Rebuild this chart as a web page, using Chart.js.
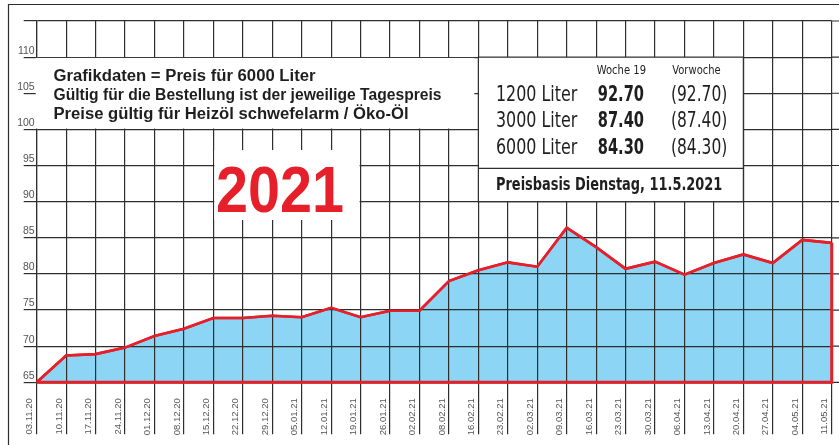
<!DOCTYPE html>
<html>
<head>
<meta charset="utf-8">
<script src="https://cdn.jsdelivr.net/npm/chart.js@4.4.1/dist/chart.umd.min.js"></script>
<style>
  html, body { margin: 0; padding: 0; background: #fff; }
  canvas { display: block; }
</style>
</head>
<body>
<canvas id="priceChart" width="839" height="445"></canvas>
<script>
/* ─── Data ───────────────────────────────────────────────────── */
const WEEKS = [
  '03.11.20', '10.11.20', '17.11.20', '24.11.20', '01.12.20', '08.12.20', '15.12.20',
  '22.12.20', '29.12.20', '05.01.21', '12.01.21', '19.01.21', '26.01.21', '02.02.21',
  '08.02.21', '16.02.21', '23.02.21', '02.03.21', '09.03.21', '16.03.21', '23.03.21',
  '30.03.21', '06.04.21', '13.04.21', '20.04.21', '27.04.21', '04.05.21', '11.05.21',
];
const PRICE_6000 = [
  65.0, 68.7, 68.9, 69.8, 71.4, 72.4, 73.9,
  73.9, 74.2, 74.0, 75.3, 74.0, 74.9, 74.9,
  79.0, 80.5, 81.6, 81.0, 86.4, 83.7, 80.7,
  81.7, 79.9, 81.5, 82.7, 81.5, 84.7, 84.3,
];
const Y_MIN = 65;
const Y_MAX = 115;
const Y_STEP = 5;

const NOTES = [
  'Grafikdaten = Preis für 6000 Liter',
  'Gültig für die Bestellung ist der jeweilige Tagespreis',
  'Preise gültig für Heizöl schwefelarm / Öko-Öl',
];
const TABLE_ROWS  = ['1200 Liter', '3000 Liter', '6000 Liter'];
const THIS_WEEK   = ['92.70', '87.40', '84.30'];
const LAST_WEEK   = ['(92.70)', '(87.40)', '(84.30)'];
const COL_HEADS   = ['Woche 19', 'Vorwoche'];
const BASIS_TEXT  = 'Preisbasis Dienstag, 11.5.2021';
const YEAR_TEXT   = '2021';

/* ─── Styles ─────────────────────────────────────────────────── */
const RED   = '#e6202a';
const BLUE  = '#8dd5f4';
const GRID  = '#2e2e2e';
const TICK  = '#555';
const INK   = '#1e1e1e';
const SANS   = "'Liberation Sans', Arial, sans-serif";
const NARROW = "'Liberation Sans Narrow', 'Arial Narrow', 'DejaVu Sans Condensed', sans-serif";

/* ─── Helpers ────────────────────────────────────────────────── */
// draw text squeezed/stretched to a given width
function fitText(ctx, text, x, base, font, color, width) {
  ctx.save();
  ctx.font = font;
  ctx.fillStyle = color;
  ctx.textAlign = 'left';
  ctx.textBaseline = 'alphabetic';
  const w = ctx.measureText(text).width;
  ctx.translate(x, base);
  ctx.scale(width / w, 1);
  ctx.fillText(text, 0, 0);
  ctx.restore();
}

function whiteBox(ctx, x0, y0, x1, y1) {
  ctx.fillStyle = '#fff';
  ctx.fillRect(x0, y0, x1 - x0, y1 - y0);
}

/* ─── Overlay plugin: frame, red outline on top, text boxes ─── */
const overlay = {
  id: 'overlay',
  afterDraw(chart) {
    const { ctx, chartArea: area, scales: { x, y } } = chart;
    ctx.save();

    // outer frame (top + left)
    ctx.strokeStyle = GRID;
    ctx.lineWidth = 1.2;
    ctx.beginPath();
    ctx.moveTo(8.5, 445); ctx.lineTo(8.5, 4.5); ctx.lineTo(839, 4.5);
    ctx.stroke();

    // horizontal grid runs a little past the right edge
    ctx.beginPath();
    y.ticks.forEach(t => {
      const py = y.getPixelForValue(t.value);
      ctx.moveTo(area.right, py); ctx.lineTo(839, py);
    });
    ctx.stroke();

    // red lines go above the grid
    chart.data.datasets.forEach((ds, i) => chart.getDatasetMeta(i).controller.draw());

    // left notes box
    const y110 = y.getPixelForValue(110);
    const y100 = y.getPixelForValue(100);
    const y90  = y.getPixelForValue(90);
    whiteBox(ctx, area.left - 1, y110 + 0.8, x.getPixelForValue(15) - 4, y100 - 0.8);
    [81, 100, 119].forEach((b, i) =>
      fitText(ctx, NOTES[i], 53.5, b, `bold 16px ${SANS}`, INK, [262, 388, 355][i]));

    // "2021"
    whiteBox(ctx, x.getPixelForValue(6) + 1, 150, x.getPixelForValue(11) - 1, 220);
    fitText(ctx, YEAR_TEXT, 216, 211.5, `bold 64px ${SANS}`, RED, 128);

    // price table box
    const bx0 = x.getPixelForValue(15);
    const bx1 = x.getPixelForValue(24);
    whiteBox(ctx, bx0, y110, bx1, y90);
    ctx.strokeStyle = GRID;
    ctx.lineWidth = 1.2;
    ctx.strokeRect(bx0, y110, bx1 - bx0, y90 - y110);
    ctx.beginPath();
    ctx.moveTo(bx0, 168.3); ctx.lineTo(bx1, 168.3);
    ctx.stroke();

    fitText(ctx, COL_HEADS[0], 596.7, 73.5, `13px ${NARROW}`, INK, 49.3);
    fitText(ctx, COL_HEADS[1], 672.3, 73.5, `13px ${NARROW}`, INK, 48.4);
    [100.7, 127.3, 154].forEach((b, i) => {
      fitText(ctx, TABLE_ROWS[i], 496, b, `22px ${NARROW}`, INK, 81.3);
      fitText(ctx, THIS_WEEK[i], 597.7, b, `bold 22px ${NARROW}`, INK, 46.3);
      fitText(ctx, LAST_WEEK[i], 671, b, `22px ${NARROW}`, INK, 56.3);
    });
    fitText(ctx, BASIS_TEXT, 496, 190, `bold 18px ${NARROW}`, INK, 226.3);

    ctx.restore();
  },
};

/* ─── Chart ──────────────────────────────────────────────────── */
const last = WEEKS.length - 1;

new Chart(document.getElementById('priceChart'), {
  type: 'line',
  data: {
    labels: WEEKS,
    datasets: [
      {
        data: PRICE_6000,
        borderColor: RED,
        borderWidth: 2.6,
        backgroundColor: BLUE,
        fill: 'start',
        pointRadius: 0,
        tension: 0,
      },
      {
        // closing outline: baseline and right edge
        data: [
          { x: WEEKS[0], y: Y_MIN },
          { x: WEEKS[last], y: Y_MIN },
          { x: WEEKS[last], y: PRICE_6000[last] },
        ],
        borderColor: RED,
        borderWidth: 3,
        fill: false,
        pointRadius: 0,
        tension: 0,
      },
    ],
  },
  options: {
    responsive: false,
    animation: false,
    devicePixelRatio: 1,
    layout: { padding: { left: 0, top: 21, right: 7.3, bottom: 0 } },
    plugins: {
      legend: { display: false },
      tooltip: { enabled: false },
    },
    scales: {
      x: {
        grid: { color: GRID, lineWidth: 1.2, tickLength: 52, z: 1 },
        border: { color: GRID, width: 1.2, z: 1 },
        ticks: {
          autoSkip: false,
          minRotation: 90,
          maxRotation: 90,
          labelOffset: -7,
          padding: -36,
          color: TICK,
          font: { family: SANS, size: 9.5 },
        },
        afterFit: s => { s.height = 62.7; },
      },
      y: {
        min: Y_MIN,
        max: Y_MAX,
        grid: { color: GRID, lineWidth: 1.2, tickLength: 13, z: 1 },
        border: { color: GRID, width: 1.2, z: 1 },
        ticks: {
          stepSize: Y_STEP,
          labelOffset: -6.5,
          padding: -11,
          color: TICK,
          font: { family: SANS, size: 10.5 },
          callback: v => (v === Y_MAX ? '' : v),
        },
        afterFit: s => { s.width = 36.7; },
      },
    },
  },
  plugins: [overlay],
});
</script>
</body>
</html>
